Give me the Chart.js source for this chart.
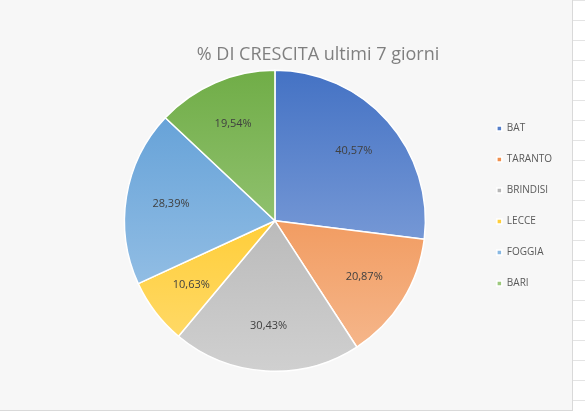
<!DOCTYPE html>
<html>
<head>
<meta charset="utf-8">
<script src="https://cdn.jsdelivr.net/npm/chart.js@4/dist/chart.umd.min.js"></script>
<style>
  body { margin: 0; background: #fff;
    background-image: linear-gradient(#e4e4e4 1px, transparent 1px);
    background-size: 100% 20px; }
  #wrap { position: absolute; left: 0; top: 0; width: 572px; height: 410px; background: #f7f7f7; border-right: 1px solid #d9d9d9; border-bottom: 1px solid #d9d9d9; }
</style>
</head>
<body>
<div id="wrap"><canvas id="plot" width="572" height="410"></canvas></div>
<script>
const categories = ['BAT', 'TARANTO', 'BRINDISI', 'LECCE', 'FOGGIA', 'BARI'];
const growth = [40.57, 20.87, 30.43, 10.63, 28.39, 19.54];
const darkColors = ['#4472c4', '#ed7d31', '#a5a5a5', '#ffc000', '#5b9bd5', '#70ad47'];
const lightColors = ['#9bb5e3', '#f6bb92', '#d0d0d0', '#ffdc73', '#a7cbea', '#afd494'];

const sliceLabels = {
    id: 'sliceLabels',
    afterDatasetsDraw(chart) {
        const ctx = chart.ctx;
        const meta = chart.getDatasetMeta(0);
        ctx.save();
        ctx.font = '11px "Open Sans", sans-serif';
        ctx.fillStyle = '#404040';
        ctx.textAlign = 'center';
        ctx.textBaseline = 'middle';
        meta.data.forEach(function(arc, i) {
            const p = arc.tooltipPosition();
            const cx = arc.x, cy = arc.y;
            const x = cx + (p.x - cx) * 1.4;
            const y = cy + (p.y - cy) * 1.4;
            ctx.fillText(growth[i].toFixed(2).replace('.', ',') + '%', x, y);
        });
        ctx.restore();
    }
};

// move the legend down next to the lower half of the pie, as in the original
const legendShift = {
    id: 'legendShift',
    afterLayout(chart) {
        chart.legend.legendHitBoxes.forEach(function(b) { b.top += 44; });
    }
};

const ctx = document.getElementById('plot').getContext('2d');
new Chart(ctx, {
    type: 'pie',
    data: {
        labels: categories,
        datasets: [{
            data: growth,
            borderColor: '#ffffff',
            borderWidth: 1.5,
            backgroundColor: function(c) {
                const area = c.chart.chartArea;
                if (!area) return darkColors[c.dataIndex];
                const g = c.chart.ctx.createLinearGradient(0, area.top, 0, area.bottom);
                g.addColorStop(0, darkColors[c.dataIndex]);
                g.addColorStop(1, lightColors[c.dataIndex]);
                return g;
            }
        }]
    },
    options: {
        responsive: false,
        animation: false,
        layout: { padding: { left: 74, right: 10, top: 40, bottom: 38 } },
        plugins: {
            title: {
                display: true,
                text: '% DI CRESCITA ultimi 7 giorni',
                color: '#7f7f7f',
                font: { family: '"Open Sans", sans-serif', size: 18, weight: 'normal' },
                padding: { top: 4, bottom: 4 }
            },
            legend: {
                position: 'right',
                labels: {
                    color: '#595959',
                    font: { family: '"Open Sans", sans-serif', size: 10 },
                    boxWidth: 5, boxHeight: 5, padding: 21
                }
            },
            tooltip: { enabled: false }
        }
    },
    plugins: [sliceLabels, legendShift]
});
</script>
</body>
</html>
